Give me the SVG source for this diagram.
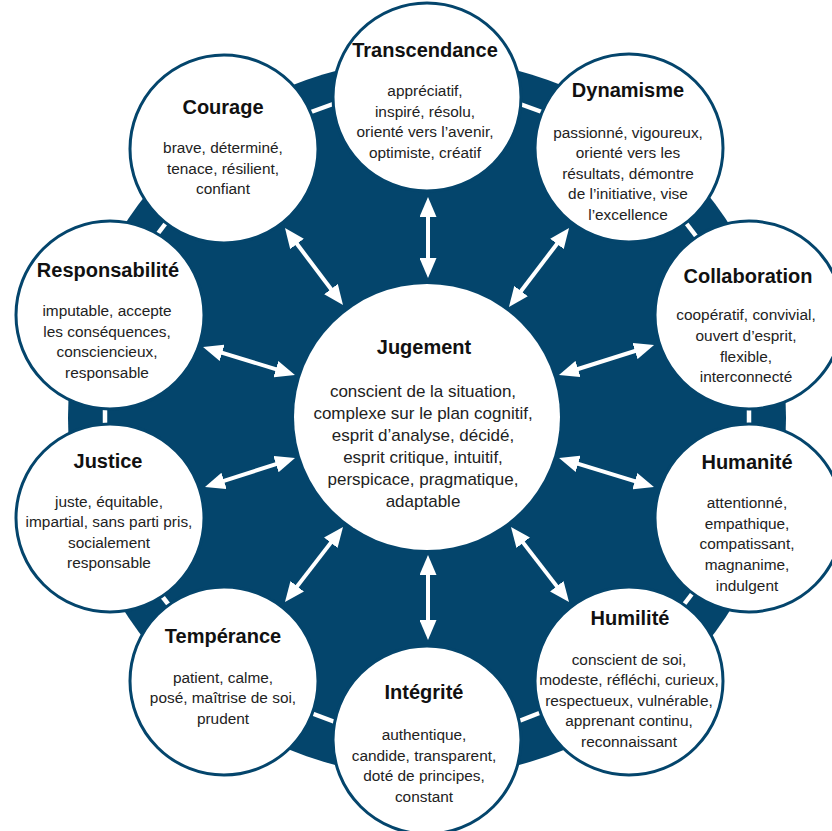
<svg xmlns="http://www.w3.org/2000/svg" width="832" height="831" viewBox="0 0 832 831">
<style>
.bg{fill:#04456c}
.node{fill:#ffffff;stroke:#04456c;stroke-width:3}
.hub{fill:#ffffff}
.t{font-family:"Liberation Sans",Arial,sans-serif;font-weight:bold;font-size:20px;fill:#111111;text-anchor:middle}
.b{font-family:"Liberation Sans",Arial,sans-serif;font-size:15.4px;fill:#222222;text-anchor:middle}
.bc{font-family:"Liberation Sans",Arial,sans-serif;font-size:17px;fill:#222222;text-anchor:middle}
.arr{stroke:#ffffff;stroke-width:4;fill:none;marker-start:url(#ah);marker-end:url(#ah)}
.dash{stroke:#ffffff;stroke-width:4.5;fill:none}
</style>
<defs>
<marker id="ah" viewBox="0 0 20 17" refX="10" refY="8.5" markerWidth="20" markerHeight="17" markerUnits="userSpaceOnUse" orient="auto-start-reverse">
<path d="M0,0 L20,8.5 L0,17 Z" fill="#ffffff"/>
</marker>
</defs>
<rect width="832" height="831" fill="#ffffff"/>
<circle class="bg" cx="427" cy="418" r="359"/>
<g id="connectors">
<line class="arr" x1="428" y1="207" x2="428" y2="268"/>
<line class="arr" x1="291" y1="236" x2="337" y2="297"/>
<line class="arr" x1="563" y1="236" x2="515" y2="299"/>
<line class="arr" x1="212.6" y1="349.9" x2="285.4" y2="372.1"/>
<line class="arr" x1="644.5" y1="348" x2="568.5" y2="372"/>
<line class="arr" x1="214.5" y1="483.9" x2="285.5" y2="461.1"/>
<line class="arr" x1="644.4" y1="484.1" x2="568.6" y2="460.9"/>
<line class="arr" x1="291.1" y1="594.1" x2="336.9" y2="534.9"/>
<line class="arr" x1="562.9" y1="594.1" x2="517.1" y2="534.9"/>
<line class="arr" x1="428" y1="565" x2="428" y2="630"/>
<line class="dash" x1="311" y1="112" x2="333" y2="104"/>
<line class="dash" x1="520" y1="104" x2="542" y2="112"/>
<line class="dash" x1="686" y1="223" x2="699" y2="240"/>
<line class="dash" x1="749" y1="406" x2="749" y2="430"/>
<line class="dash" x1="682" y1="607" x2="695" y2="590"/>
<line class="dash" x1="519" y1="721" x2="542" y2="712"/>
<line class="dash" x1="311" y1="713" x2="335" y2="722"/>
<line class="dash" x1="158" y1="591" x2="172" y2="609"/>
<line class="dash" x1="105" y1="406" x2="105" y2="430"/>
<line class="dash" x1="153" y1="240" x2="169" y2="219"/>
</g>
<g id="jugement">
<circle class="hub" cx="427" cy="417" r="133"/>
<text class="t" x="424" y="354">Jugement</text>
<text class="bc" x="423" y="397">conscient de la situation,</text>
<text class="bc" x="423" y="419">complexe sur le plan cognitif,</text>
<text class="bc" x="423" y="441">esprit d’analyse, décidé,</text>
<text class="bc" x="423" y="463">esprit critique, intuitif,</text>
<text class="bc" x="423" y="485">perspicace, pragmatique,</text>
<text class="bc" x="423" y="507">adaptable</text>
</g>
<g id="transcendance">
<circle class="node" cx="427" cy="97" r="94"/>
<text class="t" x="425" y="57">Transcendance</text>
<text class="b" x="425" y="96">appréciatif,</text>
<text class="b" x="425" y="117">inspiré, résolu,</text>
<text class="b" x="425" y="137">orienté vers l’avenir,</text>
<text class="b" x="425" y="158">optimiste, créatif</text>
</g>
<g id="dynamisme">
<circle class="node" cx="629" cy="148" r="94"/>
<text class="t" x="628" y="97">Dynamisme</text>
<text class="b" x="628" y="138">passionné, vigoureux,</text>
<text class="b" x="628" y="158">orienté vers les</text>
<text class="b" x="628" y="179">résultats, démontre</text>
<text class="b" x="628" y="199">de l’initiative, vise</text>
<text class="b" x="628" y="220">l’excellence</text>
</g>
<g id="collaboration">
<circle class="node" cx="749" cy="315" r="94"/>
<text class="t" x="748" y="283">Collaboration</text>
<text class="b" x="746" y="320">coopératif, convivial,</text>
<text class="b" x="746" y="341">ouvert d’esprit,</text>
<text class="b" x="746" y="362">flexible,</text>
<text class="b" x="746" y="382">interconnecté</text>
</g>
<g id="humanite">
<circle class="node" cx="749" cy="518" r="94"/>
<text class="t" x="747" y="469">Humanité</text>
<text class="b" x="747" y="508">attentionné,</text>
<text class="b" x="747" y="529">empathique,</text>
<text class="b" x="747" y="549">compatissant,</text>
<text class="b" x="747" y="570">magnanime,</text>
<text class="b" x="747" y="591">indulgent</text>
</g>
<g id="humilite">
<circle class="node" cx="629" cy="681" r="94"/>
<text class="t" x="630" y="625">Humilité</text>
<text class="b" x="629" y="665">conscient de soi,</text>
<text class="b" x="629" y="685">modeste, réfléchi, curieux,</text>
<text class="b" x="629" y="706">respectueux, vulnérable,</text>
<text class="b" x="629" y="726">apprenant continu,</text>
<text class="b" x="629" y="747">reconnaissant</text>
</g>
<g id="integrite">
<circle class="node" cx="427" cy="740" r="94"/>
<text class="t" x="424" y="699">Intégrité</text>
<text class="b" x="424" y="740">authentique,</text>
<text class="b" x="424" y="761">candide, transparent,</text>
<text class="b" x="424" y="781">doté de principes,</text>
<text class="b" x="424" y="802">constant</text>
</g>
<g id="temperance">
<circle class="node" cx="224" cy="681" r="94"/>
<text class="t" x="223" y="643">Tempérance</text>
<text class="b" x="223" y="683">patient, calme,</text>
<text class="b" x="223" y="703">posé, maîtrise de soi,</text>
<text class="b" x="223" y="724">prudent</text>
</g>
<g id="justice">
<circle class="node" cx="110" cy="518" r="94"/>
<text class="t" x="108" y="468">Justice</text>
<text class="b" x="109" y="507">juste, équitable,</text>
<text class="b" x="109" y="527">impartial, sans parti pris,</text>
<text class="b" x="109" y="548">socialement</text>
<text class="b" x="109" y="568">responsable</text>
</g>
<g id="responsabilite">
<circle class="node" cx="110" cy="315" r="94"/>
<text class="t" x="108" y="277">Responsabilité</text>
<text class="b" x="107" y="316">imputable, accepte</text>
<text class="b" x="107" y="337">les conséquences,</text>
<text class="b" x="107" y="357">consciencieux,</text>
<text class="b" x="107" y="378">responsable</text>
</g>
<g id="courage">
<circle class="node" cx="224" cy="149" r="94"/>
<text class="t" x="223" y="114">Courage</text>
<text class="b" x="223" y="153">brave, déterminé,</text>
<text class="b" x="223" y="174">tenace, résilient,</text>
<text class="b" x="223" y="194">confiant</text>
</g>
</svg>
